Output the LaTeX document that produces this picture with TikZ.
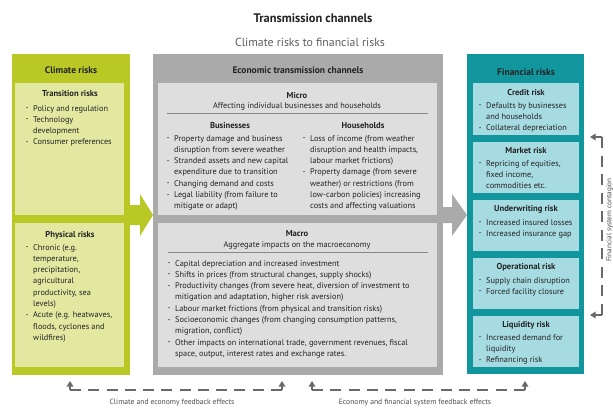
\documentclass[tikz,border=0pt]{standalone}
\usepackage{fontspec}
\setmainfont{PT Sans}
\usetikzlibrary{arrows.meta}

\definecolor{grn}{RGB}{186,200,38}
\definecolor{grnlt}{RGB}{226,232,160}
\definecolor{gry}{RGB}{170,170,170}
\definecolor{grylt}{RGB}{222,222,222}
\definecolor{tl}{RGB}{18,150,158}
\definecolor{tllt}{RGB}{166,219,226}
\definecolor{ink}{RGB}{35,35,35}
\definecolor{subink}{RGB}{95,95,95}
\definecolor{fb}{RGB}{105,105,105}

\newcommand\bodyfont{\fontsize{8.3}{11.3}\selectfont}
\newcommand\bdot{\raisebox{0.35ex}{\fontsize{4.5}{5}\selectfont\textbullet}}
% a bullet line, and a continuation line under its text
\newcommand\bitem[1]{\par\noindent\hbox to 7pt{\bdot\hfil}#1}
\newcommand\lcont{\par\noindent\hbox to 7pt{\hfil}\ignorespaces}
% a bulleted list whose anchor is the first baseline
\newcommand\blist[2]{\parbox[t]{#1}{\bodyfont\raggedright #2\par}}

\begin{document}
\begin{tikzpicture}[x=1pt,y=-1pt,
  panel/.style={fill=#1, draw=none, inner sep=0, anchor=north west},
  colhead/.style={font=\fontsize{9.5}{11}\selectfont\bfseries, text=ink, inner sep=0, anchor=base},
  subhead/.style={font=\fontsize{8.6}{11}\selectfont\bfseries, text=ink, inner sep=0, anchor=base},
  plain/.style={font=\bodyfont, text=ink, inner sep=0, anchor=base},
  lst/.style={text=ink, inner sep=0, anchor=base west},
  rule/.style={draw=gry!80!black, line width=0.6pt},
  fbline/.style={draw=fb, line width=1.3pt},
  fbtip/.style={draw=fb, line width=1.3pt, -{Triangle[width=6.5pt,length=5.5pt]}},
  fbtext/.style={font=\fontsize{7.6}{9}\selectfont, text=subink!80!black, inner sep=0, anchor=base}
]
\useasboundingbox (0,0) rectangle (613,408);
\fill[white] (0,0) rectangle (613,408);

% ---------- titles
\node[font=\fontsize{12.4}{14}\selectfont\bfseries, text=ink, inner sep=0, anchor=base] (title) at (313,22.5) {Transmission channels};
\node[font=\fontsize{11.8}{14}\selectfont, text=subink, inner sep=0, anchor=base] (subtitle) at (310,46.5) {Climate risks to financial risks};

% ---------- big arrows between the columns
\fill[grn] (130,205) -- (140,205) -- (140,194) -- (153,215) -- (140,236) -- (140,225) -- (130,225) -- cycle;
\fill[gry] (443,207) -- (452,207) -- (452,194) -- (467,215) -- (452,236) -- (452,223) -- (443,223) -- cycle;

% ---------- climate risks column
\node[panel=grn, minimum width=118, minimum height=321] (climate) at (12,54) {};
\node[colhead] (climatehd) at (71,73) {Climate risks};
\node[panel=grnlt, minimum width=109, minimum height=132] (trans) at (15,83) {};
\node[subhead] (transhd) at (70,96) {Transition risks};
\node[lst] (translist) at (26,111) {\blist{100pt}{\bitem{Policy and regulation}\bitem{Technology}\lcont development\bitem{Consumer preferences}}};
\node[panel=grnlt, minimum width=109, minimum height=144] (phys) at (15,223) {};
\node[subhead] (physhd) at (70,237) {Physical risks};
\node[lst] (physlist) at (26,250) {\blist{100pt}{\bitem{Chronic (e.g.}\lcont temperature,\lcont precipitation,\lcont agricultural\lcont productivity, sea\lcont levels)\bitem{Acute (e.g. heatwaves,}\lcont floods, cyclones and\lcont wildfires)}};

% ---------- economic transmission channels column
\node[panel=gry, minimum width=290, minimum height=321] (econ) at (153,54) {};
\node[colhead] (econhd) at (298,73) {Economic transmission channels};
\node[panel=grylt, minimum width=279, minimum height=132] (micro) at (158,83) {};
\node[subhead] (microhd) at (297,98) {Micro};
\node[plain] (microsub) at (297,108) {Affecting individual businesses and households};
\draw[rule] (167,113) -- (428,113);
\node[subhead] (busihd) at (230,128) {Businesses};
\node[subhead] (househd) at (363,128) {Households};
\node[lst] (busilist) at (167,141) {\blist{132pt}{\bitem{Property damage and business}\lcont disruption from severe weather\bitem{Stranded assets and new capital}\lcont expenditure due to transition\bitem{Changing demand and costs}\bitem{Legal liability (from failure to}\lcont mitigate or adapt)}};
\node[lst] (houselist) at (303,141) {\blist{132pt}{\bitem{Loss of income (from weather}\lcont disruption and health impacts,\lcont labour market frictions)\bitem{Property damage (from severe}\lcont weather) or restrictions (from\lcont low-carbon policies) increasing\lcont costs and affecting valuations}};
\node[panel=grylt, minimum width=279, minimum height=144] (macro) at (158,223) {};
\node[subhead] (macrohd) at (297,236) {Macro};
\node[plain] (macrosub) at (297,247) {Aggregate impacts on the macroeconomy};
\draw[rule] (168,252) -- (428,252);
\node[lst] (macrolist) at (168,266) {\blist{265pt}{\bitem{Capital depreciation and increased investment}\bitem{Shifts in prices (from structural changes, supply shocks)}\bitem{Productivity changes (from severe heat, diversion of investment to}\lcont mitigation and adaptation, higher risk aversion)\bitem{Labour market frictions (from physical and transition risks)}\bitem{Socioeconomic changes (from changing consumption patterns,}\lcont migration, conflict)\bitem{Other impacts on international trade, government revenues, fiscal}\lcont space, output, interest rates and exchange rates.}};

% ---------- financial risks column
\node[panel=tl, minimum width=117, minimum height=320] (fin) at (467,54) {};
\node[colhead] (finhd) at (526,75) {Financial risks};
\node[panel=tllt, minimum width=106, minimum height=52] (credit) at (473,83) {};
\node[subhead] (credithd) at (526,95) {Credit risk};
\node[lst] (creditlist) at (479,108) {\blist{100pt}{\bitem{Defaults by businesses}\lcont and households\bitem{Collateral depreciation}}};
\node[panel=tllt, minimum width=106, minimum height=51] (market) at (473,142) {};
\node[subhead] (markethd) at (526,153) {Market risk};
\node[lst] (marketlist) at (479,166) {\blist{100pt}{\bitem{Repricing of equities,}\lcont fixed income,\lcont commodities etc.}};
\node[panel=tllt, minimum width=106, minimum height=51] (under) at (473,200) {};
\node[subhead] (underhd) at (526,211) {Underwriting risk};
\node[lst] (underlist) at (479,225) {\blist{100pt}{\bitem{Increased insured losses}\bitem{Increased insurance gap}}};
\node[panel=tllt, minimum width=106, minimum height=51] (oper) at (473,258) {};
\node[subhead] (operhd) at (526,269) {Operational risk};
\node[lst] (operlist) at (479,283) {\blist{100pt}{\bitem{Supply chain disruption}\bitem{Forced facility closure}}};
\node[panel=tllt, minimum width=106, minimum height=51] (liq) at (473,316) {};
\node[subhead] (liqhd) at (526,327) {Liquidity risk};
\node[lst] (liqlist) at (479,340) {\blist{100pt}{\bitem{Increased demand for}\lcont liquidity\bitem{Refinancing risk}}};

% ---------- feedback loops
\coordinate (fa1) at (70,390);  \coordinate (fa1t) at (70,381);
\coordinate (fa2) at (282,390); \coordinate (fa2t) at (282,381);
\coordinate (fb1) at (312,390); \coordinate (fb1t) at (312,381);
\coordinate (fb2) at (525,390); \coordinate (fb2t) at (525,381);
\draw[fbline, dash pattern=on 11pt off 7.27pt] (fa1) -- (fa2);
\draw[fbtip] (fa1) -- (fa1t);
\draw[fbtip] (fa2) -- (fa2t);
\draw[fbline, dash pattern=on 11pt off 7.36pt] (fb1) -- (fb2);
\draw[fbtip] (fb1) -- (fb1t);
\draw[fbtip] (fb2) -- (fb2t);
\node[fbtext] (fbatext) at (172,404) {Climate and economy feedback effects};
\node[fbtext] (fbbtext) at (415,404) {Economy and financial system feedback effects};

\coordinate (fc1) at (602,137); \coordinate (fc1t) at (590,137);
\coordinate (fc2) at (602,315); \coordinate (fc2t) at (590,315);
\draw[fbline, dash pattern=on 11pt off 7.55pt] (fc1) -- (fc2);
\draw[fbtip] (fc1) -- (fc1t);
\draw[fbtip] (fc2) -- (fc2t);
\node[fbtext, font=\fontsize{7.2}{9}\selectfont, rotate=90] (fctext) at (611.3,220) {Financial system contagion};
\end{tikzpicture}
\end{document}
